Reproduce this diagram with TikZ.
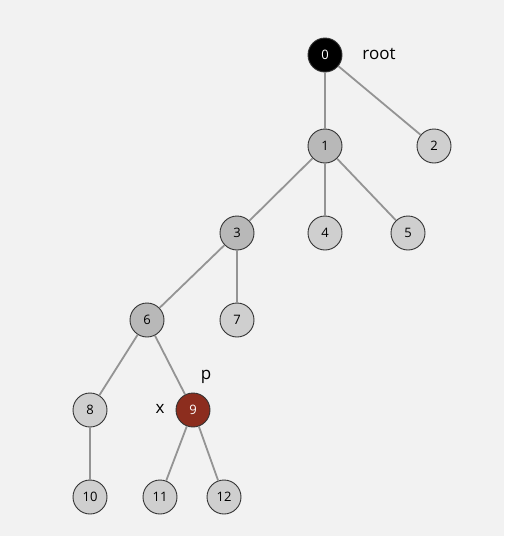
\documentclass[tikz,border=0pt]{standalone}
\usepackage{fontspec}
\setmainfont{Open Sans}
\begin{document}
\begin{tikzpicture}[x=1pt,y=-1pt,
  vtx/.style={circle,draw=black!80,line width=0.9pt,minimum size=34pt,inner sep=0pt,font=\fontsize{13}{13}\selectfont},
  anc/.style={vtx,fill=black!28},
  leaf/.style={vtx,fill=black!19},
  edge/.style={draw=black!42,line width=1.8pt},
  lbl/.style={font=\fontsize{17}{17}\selectfont}]
\fill[black!5] (0,0) rectangle (504,536);
\useasboundingbox (0,0) rectangle (504,536);
\node[vtx,fill=black,text=white] (n0) at (325,55) {0};
\node[anc] (n1) at (325,146) {1};
\node[leaf] (n2) at (434,146) {2};
\node[anc] (n3) at (237,233) {3};
\node[leaf] (n4) at (325,233) {4};
\node[leaf] (n5) at (408,233) {5};
\node[anc] (n6) at (147,320) {6};
\node[leaf] (n7) at (237,320) {7};
\node[leaf] (n8) at (90,410) {8};
\node[vtx,fill={rgb,255:red,140;green,45;blue,30},text=white] (n9) at (193,410) {9};
\node[leaf] (n10) at (90,497) {10};
\node[leaf] (n11) at (160,497) {11};
\node[leaf] (n12) at (224,497) {12};
\node[lbl] (root) at (379,54) {root};
\node[lbl] (p) at (206,377) {p};
\node[lbl] (x) at (160,409) {x};
\foreach \a/\b in {n0/n1,n0/n2,n1/n3,n1/n4,n1/n5,n3/n6,n3/n7,n6/n8,n6/n9,n8/n10,n9/n11,n9/n12}
  \draw[edge] (\a) -- (\b);
\end{tikzpicture}
\end{document}
